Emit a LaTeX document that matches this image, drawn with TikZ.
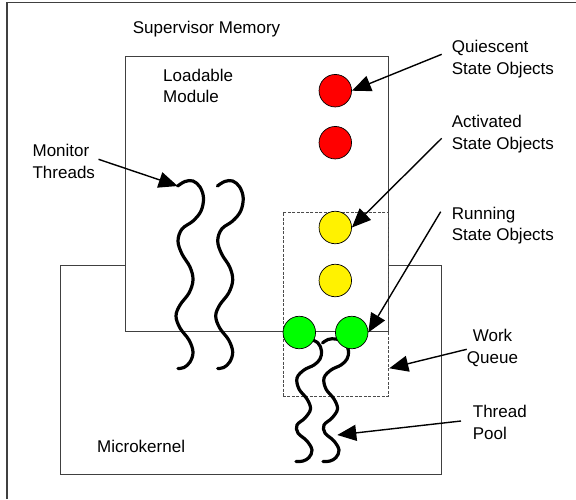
\documentclass[tikz,border=0pt]{standalone}
\usepackage{fontspec}
\setmainfont{Liberation Sans}
\usetikzlibrary{arrows.meta}
\begin{document}
\begin{tikzpicture}[x=1pt,y=-1pt,
  boxline/.style={draw=black!75, line width=1.1pt},
  wqline/.style={draw=black!70, line width=0.8pt, dash pattern=on 3pt off 1.5pt},
  thread/.style={draw=black, line width=3.2pt, line cap=round},
  obj/.style={circle, draw=black, line width=0.7pt, minimum size=32.5pt, inner sep=0pt},
  lbl/.style={inner sep=0pt, font=\fontsize{17}{21.7}\selectfont, align=left},
  arr/.style={draw=black, line width=1.4pt, -{Triangle[length=19pt,width=16pt]}}]
\useasboundingbox (0,0) rectangle (576,499);
% outer frame
\draw[boxline] (7,499) -- (7,2.7) -- (576,2.7);
% microkernel box
\node[boxline, rectangle, minimum width=381pt, minimum height=209pt, anchor=north west, inner sep=0pt] (mk) at (60,264.5) {};
% loadable module box
\node[boxline, fill=white, rectangle, minimum width=263pt, minimum height=275pt, anchor=north west, inner sep=0pt] (lm) at (125,55.5) {};
% work queue dashed box
\node[wqline, rectangle, minimum width=105.5pt, minimum height=184pt, anchor=north west, inner sep=0pt] (wq) at (282.5,211.7) {};
% monitor threads
\foreach \dx/\nm in {0/mt1, 39.7/mt2}{
\begin{scope}[xshift=\dx pt]
\coordinate (\nm) at (177.7,186);
\draw[thread] plot[smooth, tension=0.6] coordinates {(177.7,186) (185,181.5) (193,181) (200,187) (203.5,198) (201,211) (193,221) (182,229) (178,241) (182,254) (190,267) (193,280) (189,293) (180,305) (176,316) (180,328) (189,340) (193,352) (190,362) (184,367.5) (178,368.5)};
\end{scope}}
% thread pool
\foreach \dx/\nm in {0/tp1, 27/tp2}{
\begin{scope}[xshift=\dx pt]
\coordinate (\nm) at (310.3,435);
\draw[thread] plot[smooth, tension=0.6] coordinates {(295.5,343) (301,339.5) (309,339) (318,343) (321.5,351) (320,359) (314,365) (304,370) (297,378) (299,389) (307,399) (310.5,409) (305,418) (297,425) (298,433) (307,441) (312,450) (309,457.5) (303,461) (296,461.5)};
\end{scope}}
% state objects
\node[obj, fill=red] (r1) at (335.3,90.7) {};
\node[obj, fill=red] (r2) at (335.3,142.7) {};
\node[obj, fill=yellow] (y1) at (335.3,227.5) {};
\node[obj, fill=yellow] (y2) at (335.3,280.5) {};
\node[obj, fill=green] (g1) at (299.3,332.5) {};
\node[obj, fill=green] (g2) at (351.7,332.5) {};
% labels
\node[lbl, anchor=north west] (sm) at (132.7,20.7) {Supervisor Memory};
\node[lbl, anchor=north west] (lml) at (163,68.5) {Loadable\\Module};
\node[lbl, anchor=north west] (mtl) at (32.4,144) {Monitor\\Threads};
\node[lbl, anchor=north west] (mkl) at (97,440) {Microkernel};
\node[lbl, anchor=north west] (ql) at (451.7,40) {Quiescent\\State Objects};
\node[lbl, anchor=north west] (al) at (451.7,115) {Activated\\State Objects};
\node[lbl, anchor=north west] (rl) at (451.7,206.7) {Running\\State Objects};
\node[lbl, anchor=north, align=center] (wql) at (492.5,329.3) {Work\\Queue};
\node[lbl, anchor=north west] (tpl) at (472.7,405) {Thread\\Pool};
% arrow anchors
\coordinate (qs) at (441.7,54.3);
\coordinate (as) at (441.7,138.3);
\coordinate (rs) at (440.7,211.7);
\coordinate (ws) at (466.7,349.3);
\coordinate (ts) at (461,421);
\coordinate (ms) at (98.5,159.3);
\coordinate (wqtip) at (389.3,368.3);
% arrows
\draw[arr] (qs) -- (r1.east);
\draw[arr] (as) -- (y1.east);
\draw[arr] (rs) -- (g2.east);
\draw[arr] (ws) -- (wqtip);
\draw[arr] (ts) -- (tp2);
\draw[arr] (ms) -- (mt1);
\end{tikzpicture}
\end{document}
